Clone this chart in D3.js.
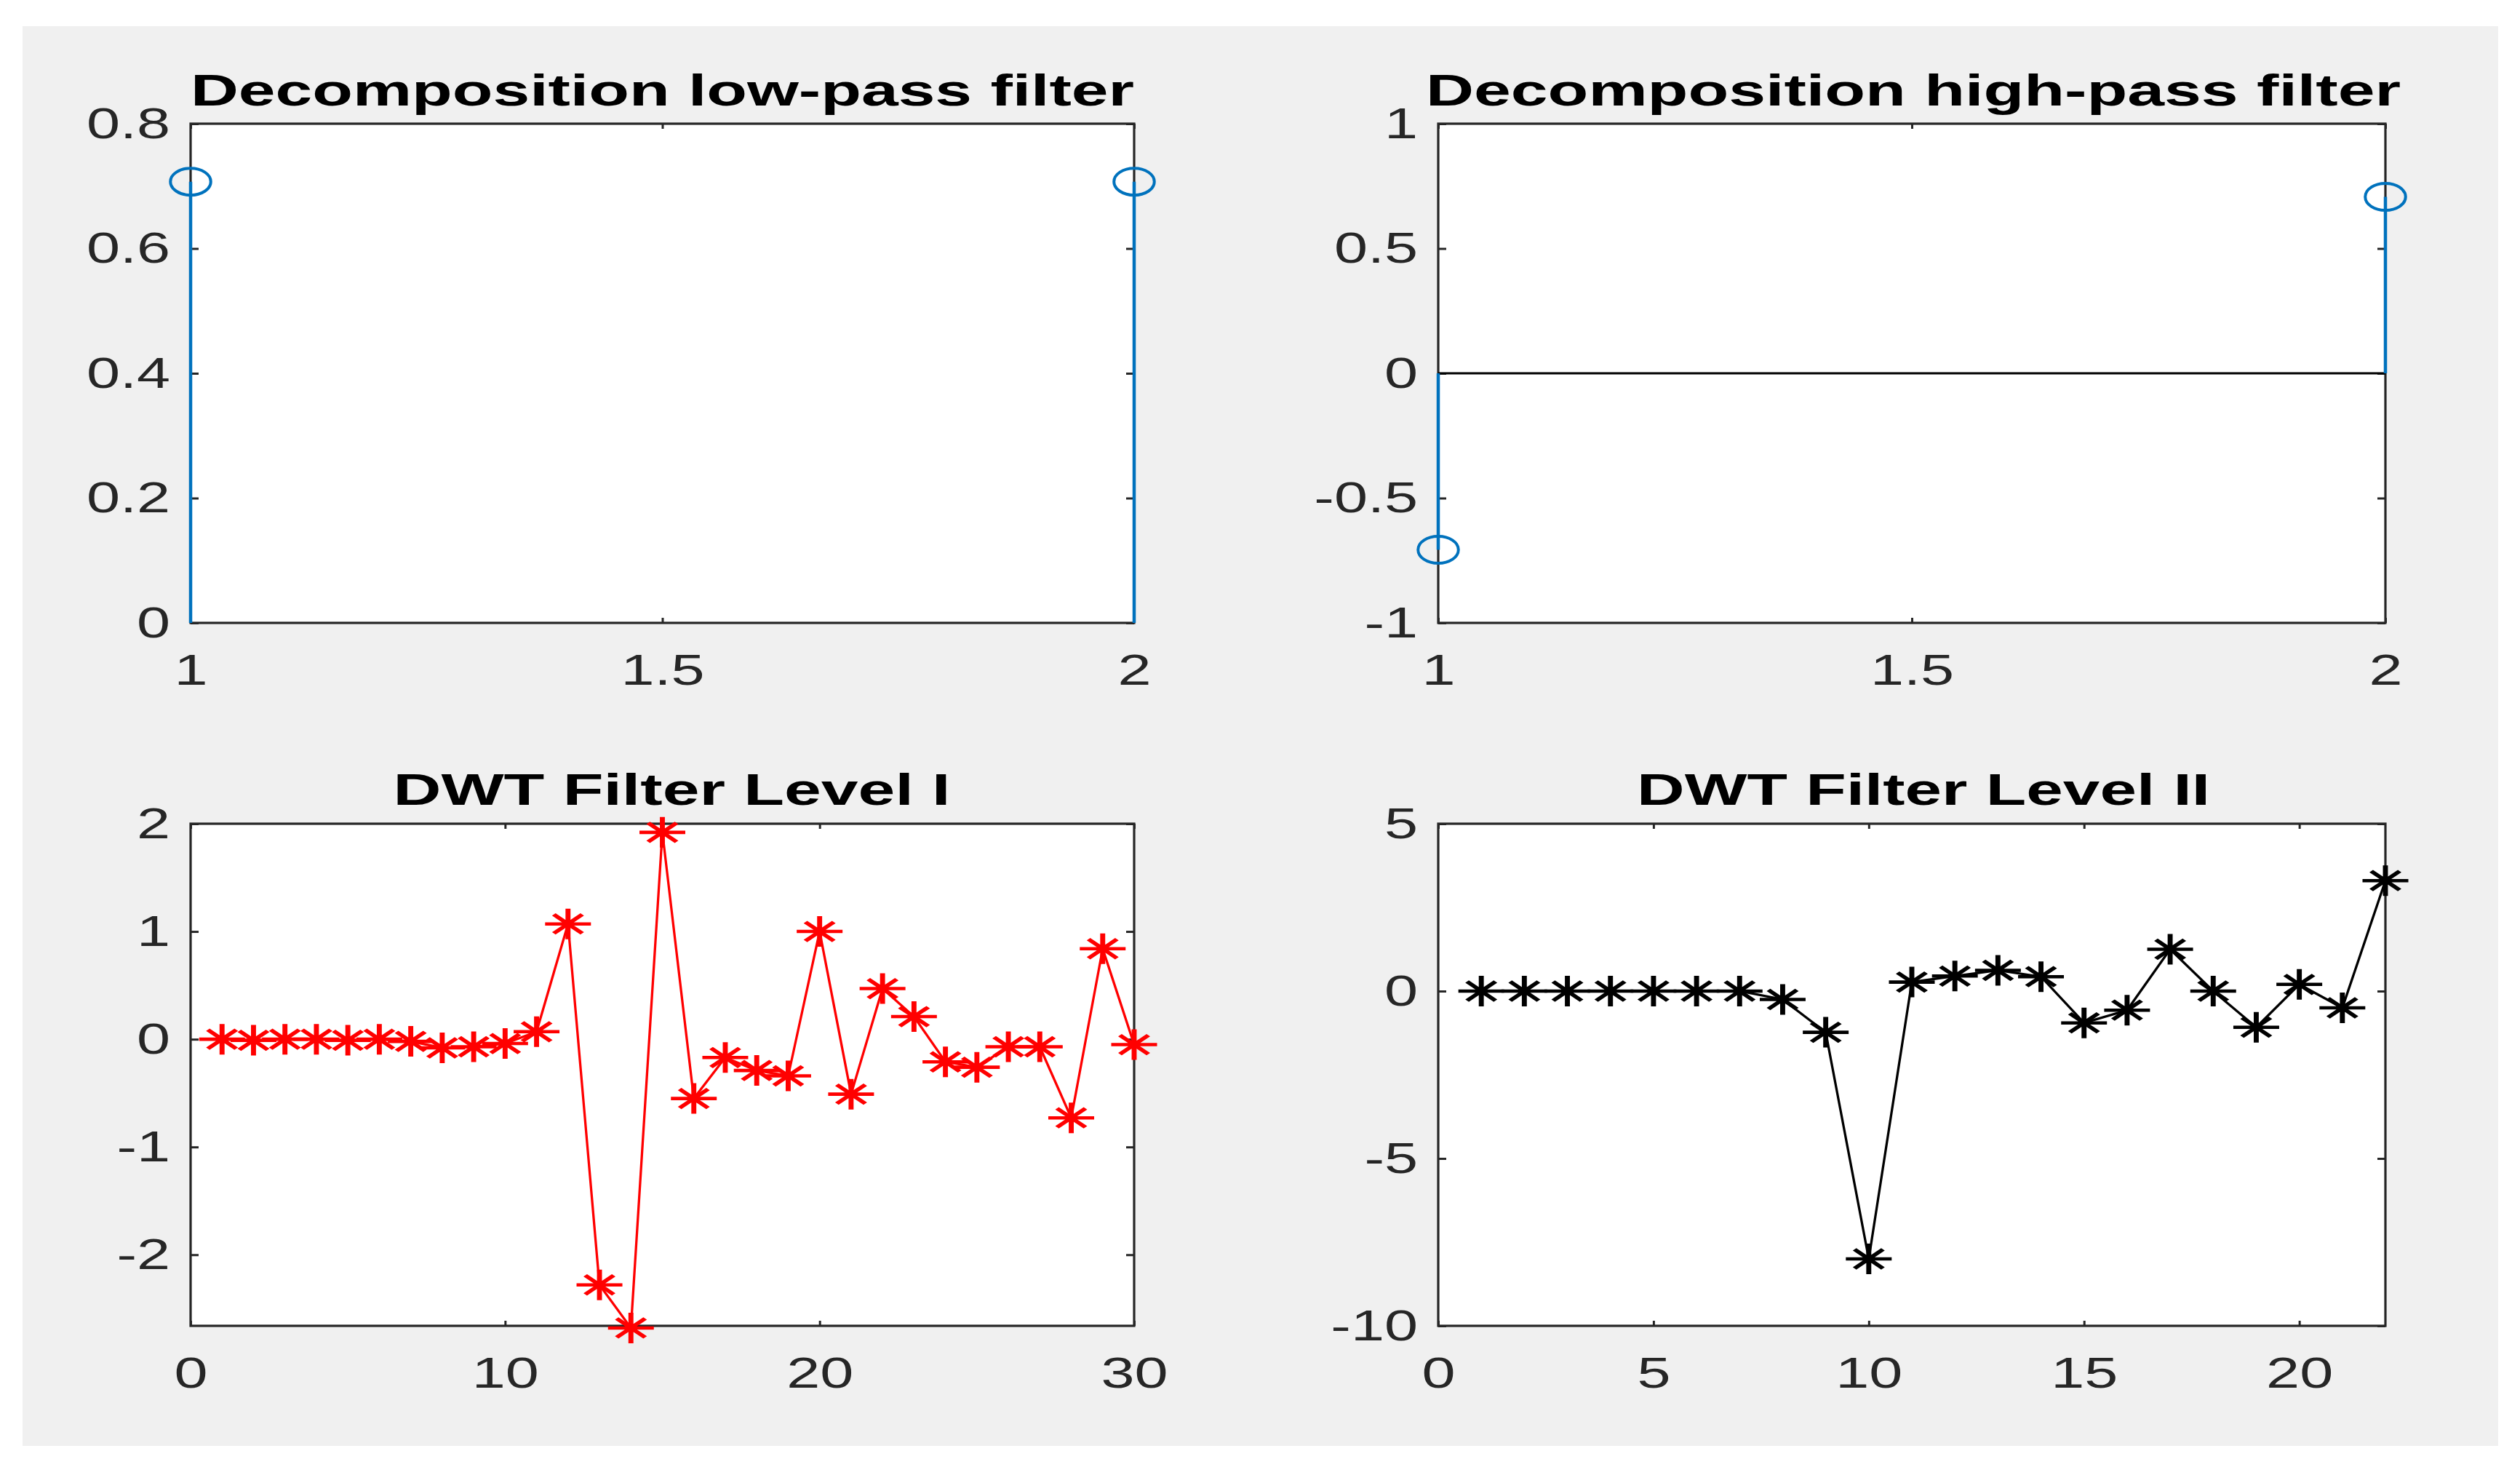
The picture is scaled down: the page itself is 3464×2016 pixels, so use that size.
<!DOCTYPE html>
<html>
<head>
<meta charset="utf-8">
<script src="https://cdn.jsdelivr.net/npm/d3@7"></script>
<style>
  body { margin: 0; background: #fff; }
  svg { display: block; }
</style>
</head>
<body>
<svg width="3464" height="2016"></svg>
<script>
// filter coefficients (Haar)
const lowPassX = [1, 2];
const lowPassY = [0.7071, 0.7071];
const highPassX = [1, 2];
const highPassY = [-0.7071, 0.7071];

// DWT coefficients
const level1Y = [0, -0.01, 0, 0, -0.01, 0, -0.02, -0.08, -0.07, -0.04,
  0.07, 1.07, -2.28, -2.68, 1.92, -0.55, -0.17, -0.29, -0.34, 1.0,
  -0.51, 0.47, 0.21, -0.21, -0.26, -0.07, -0.07, -0.73, 0.84, -0.05];
const level2Y = [0, 0, 0, 0, 0, 0, 0, -0.25, -1.23, -8.0,
  0.27, 0.45, 0.62, 0.43, -0.95, -0.57, 1.25, 0, -1.08, 0.2,
  -0.5, 3.3];

// ticks and labels
const lowPassXTicks = [1, 1.5, 2];
const lowPassYTicks = [0, 0.2, 0.4, 0.6, 0.8];
const lowPassYLabels = ["0", "0.2", "0.4", "0.6", "0.8"];
const highPassYTicks = [-1, -0.5, 0, 0.5, 1];
const highPassYLabels = ["-1", "-0.5", "0", "0.5", "1"];
const level1XTicks = [0, 10, 20, 30];
const level1YTicks = [-2, -1, 0, 1, 2];
const level1YLabels = ["-2", "-1", "0", "1", "2"];
const level2XTicks = [0, 5, 10, 15, 20];
const level2YTicks = [-10, -5, 0, 5];
const level2YLabels = ["-10", "-5", "0", "5"];

const titles = ["Decomposition low-pass filter", "Decomposition high-pass filter",
  "DWT Filter Level I", "DWT Filter Level II"];

const svg = d3.select("svg");
const SX = 1.38;      // the original figure is stretched sideways
const MX = 1.5;       // marker stretch
const axisColor = "#262626";
const font = "'Liberation Sans', Arial, Helvetica, sans-serif";

svg.append("rect").attr("x", 31).attr("y", 36)
  .attr("width", 3403).attr("height", 1951).attr("fill", "#f0f0f0");

const makePanel = (p) => {
  const w = p.right - p.left, h = p.bottom - p.top;
  const x = d3.scaleLinear().domain(p.xDomain).range([0, w]);
  const y = d3.scaleLinear().domain(p.yDomain).range([h, 0]);
  const g = svg.append("g").attr("transform", "translate(" + p.left + "," + p.top + ")");

  g.append("rect").attr("width", w).attr("height", h).attr("fill", "#fff");

  const xFmt = (d) => String(d);
  const yFmt = (d, i) => p.yLabels[i];

  const bottom = g.append("g").attr("transform", "translate(0," + h + ")")
    .call(d3.axisBottom(x).tickValues(p.xTicks).tickFormat(xFmt).tickSize(-7).tickSizeOuter(0).tickPadding(42));
  const left = g.append("g")
    .call(d3.axisLeft(y).tickValues(p.yTicks).tickFormat(yFmt).tickSize(-11).tickSizeOuter(0).tickPadding(28));
  g.append("g").call(d3.axisTop(x).tickValues(p.xTicks).tickFormat("").tickSize(-7).tickSizeOuter(0));
  g.append("g").attr("transform", "translate(" + w + ",0)")
    .call(d3.axisRight(y).tickValues(p.yTicks).tickFormat("").tickSize(-11).tickSizeOuter(0));

  g.selectAll(".domain").remove();
  g.selectAll(".tick line").attr("stroke", axisColor).attr("stroke-width", 3);
  g.selectAll(".tick text").attr("fill", axisColor).attr("font-family", font).attr("font-size", 60);
  bottom.selectAll(".tick text").attr("transform", "scale(" + SX + ",1)");
  left.selectAll(".tick text").attr("x", -28 / SX).attr("transform", "scale(" + SX + ",1)");

  g.append("rect").attr("width", w).attr("height", h)
    .attr("fill", "none").attr("stroke", axisColor).attr("stroke-width", 3.2);

  g.append("text").attr("x", w / 2 + p.titleDx).attr("y", p.titleY - p.top)
    .attr("text-anchor", "middle").attr("font-family", font).attr("font-weight", "bold")
    .attr("font-size", 62).attr("fill", "#000")
    .attr("textLength", p.titleW).attr("lengthAdjust", "spacingAndGlyphs")
    .text(p.title);

  return { g, x, y };
};

// stem plot helper
const drawStem = (panel, xs, ys) => {
  const { g, x, y } = panel;
  const pts = xs.map((d, i) => ({ x: d, y: ys[i] }));
  g.selectAll(".stem").data(pts).enter().append("line")
    .attr("x1", (d) => x(d.x)).attr("x2", (d) => x(d.x))
    .attr("y1", y(0)).attr("y2", (d) => y(d.y))
    .attr("stroke", "#0072BD").attr("stroke-width", 4.5);
  g.selectAll(".mk").data(pts).enter().append("ellipse")
    .attr("cx", (d) => x(d.x)).attr("cy", (d) => y(d.y))
    .attr("rx", 18.5 * MX).attr("ry", 18.5)
    .attr("fill", "none").attr("stroke", "#0072BD").attr("stroke-width", 4);
};

// asterisk marker like matlab '*'
const starPath = (a) => {
  const b = a * 0.62;
  return "M" + (-a) + ",0L" + a + ",0M0," + (-a) + "L0," + a +
    "M" + (-b) + "," + (-b) + "L" + b + "," + b + "M" + (-b) + "," + b + "L" + b + "," + (-b);
};

const drawSeries = (panel, ys, color) => {
  const { g, x, y } = panel;
  const line = d3.line().x((d, i) => x(i + 1)).y((d) => y(d));
  g.append("path").datum(ys).attr("d", line)
    .attr("fill", "none").attr("stroke", color).attr("stroke-width", 3.3);
  g.selectAll(".star").data(ys).enter().append("path")
    .attr("transform", (d, i) => "translate(" + x(i + 1) + "," + y(d) + ") scale(" + MX + ",1)")
    .attr("d", starPath(21))
    .attr("fill", "none").attr("stroke", color).attr("stroke-width", 4.6);
};

const p1 = makePanel({ left: 262, right: 1559, top: 170, bottom: 856,
  xDomain: [1, 2], yDomain: [0, 0.8], xTicks: lowPassXTicks, yTicks: lowPassYTicks,
  yLabels: lowPassYLabels, title: titles[0], titleY: 145, titleW: 1297, titleDx: 0 });
drawStem(p1, lowPassX, lowPassY);

const p2 = makePanel({ left: 1977, right: 3279, top: 170, bottom: 856,
  xDomain: [1, 2], yDomain: [-1, 1], xTicks: lowPassXTicks, yTicks: highPassYTicks,
  yLabels: highPassYLabels, title: titles[1], titleY: 145, titleW: 1340, titleDx: 2 });
p2.g.append("line").attr("x1", 0).attr("x2", p2.x(2)).attr("y1", p2.y(0)).attr("y2", p2.y(0))
  .attr("stroke", "#000").attr("stroke-width", 2.8);
drawStem(p2, highPassX, highPassY);

const p3 = makePanel({ left: 262, right: 1559, top: 1132, bottom: 1822,
  xDomain: [0, 30], yDomain: [-2.66, 2], xTicks: level1XTicks, yTicks: level1YTicks,
  yLabels: level1YLabels, title: titles[2], titleY: 1106, titleW: 766, titleDx: 13 });
drawSeries(p3, level1Y, "#ff0000");

const p4 = makePanel({ left: 1977, right: 3279, top: 1132, bottom: 1822,
  xDomain: [0, 22], yDomain: [-10, 5], xTicks: level2XTicks, yTicks: level2YTicks,
  yLabels: level2YLabels, title: titles[3], titleY: 1106, titleW: 788, titleDx: 16 });
drawSeries(p4, level2Y, "#000000");
</script>
</body>
</html>
